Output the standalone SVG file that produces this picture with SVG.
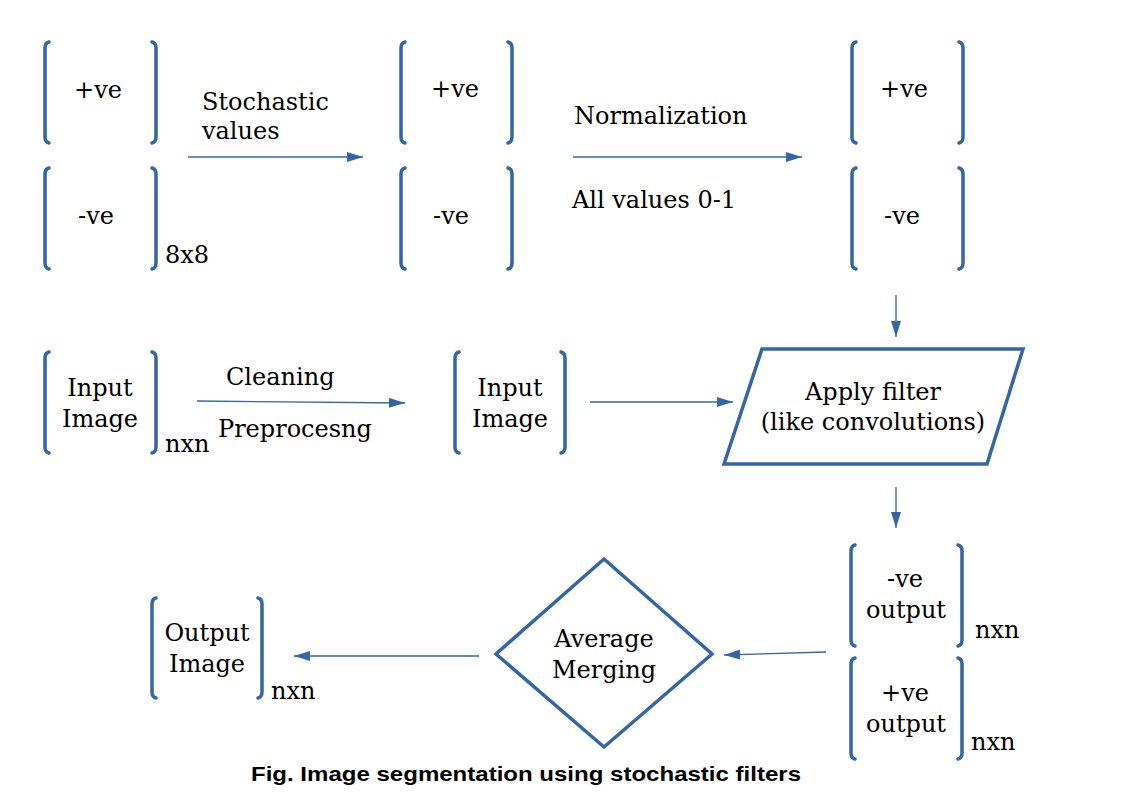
<svg xmlns="http://www.w3.org/2000/svg" width="1123" height="794" viewBox="0 0 1123 794">
<style>
.br{fill:none;stroke:#3465a4;stroke-width:3.5;stroke-linecap:round}
.sh{fill:#fff;stroke:#3465a4;stroke-width:3.5;stroke-linejoin:miter}
.ln{fill:none;stroke:#3465a4;stroke-width:1.3}
text{font-family:"DejaVu Serif",serif;font-size:24px;fill:#000}
.c{text-anchor:middle}
.cap{font-family:"Liberation Sans",Arial,sans-serif;font-weight:bold;font-size:21px}
</style>
<defs>
<marker id="ah" viewBox="0 0 16 10" refX="16" refY="5" markerWidth="16" markerHeight="10" markerUnits="userSpaceOnUse" orient="auto">
<path d="M0,0 L16,5 L0,10 Z" fill="#3465a4"/>
</marker>
</defs>
<rect width="1123" height="794" fill="#fff"/>

<g id="connectors">
<line class="ln" x1="188" y1="157" x2="363" y2="157" marker-end="url(#ah)"/>
<line class="ln" x1="573" y1="157" x2="802" y2="157" marker-end="url(#ah)"/>
<line class="ln" x1="896" y1="295" x2="896" y2="337" marker-end="url(#ah)"/>
<line class="ln" x1="197" y1="401" x2="405" y2="403" marker-end="url(#ah)"/>
<line class="ln" x1="590" y1="402" x2="733" y2="402" marker-end="url(#ah)"/>
<line class="ln" x1="896" y1="487" x2="896" y2="528" marker-end="url(#ah)"/>
<line class="ln" x1="826" y1="652" x2="724" y2="655" marker-end="url(#ah)"/>
<line class="ln" x1="479" y1="656" x2="294" y2="656" marker-end="url(#ah)"/>
</g>

<g id="pos1">
<path class="br" d="M49,42 Q45,43 45,48 V137 Q45,142 49,143"/>
<path class="br" d="M152,42 Q156,43 156,48 V137 Q156,142 152,143"/>
<text class="c" x="98" y="98">+ve</text>
</g>
<g id="neg1">
<path class="br" d="M49,168 Q45,169 45,174 V263 Q45,268 49,269"/>
<path class="br" d="M152,168 Q156,169 156,174 V263 Q156,268 152,269"/>
<text class="c" x="96" y="224">-ve</text>
<text x="165" y="263">8x8</text>
</g>
<g id="label-stochastic">
<text x="202" y="110">Stochastic</text>
<text x="202" y="139">values</text>
</g>
<g id="pos2">
<path class="br" d="M405,42 Q401,43 401,48 V137 Q401,142 405,143"/>
<path class="br" d="M508,42 Q512,43 512,48 V137 Q512,142 508,143"/>
<text class="c" x="455" y="97">+ve</text>
</g>
<g id="neg2">
<path class="br" d="M405,168 Q401,169 401,174 V263 Q401,268 405,269"/>
<path class="br" d="M508,168 Q512,169 512,174 V263 Q512,268 508,269"/>
<text class="c" x="451" y="224">-ve</text>
</g>
<g id="label-norm">
<text x="574" y="124">Normalization</text>
<text x="572" y="208">All values 0-1</text>
</g>
<g id="pos3">
<path class="br" d="M856,42 Q852,43 852,48 V137 Q852,142 856,143"/>
<path class="br" d="M959,42 Q963,43 963,48 V137 Q963,142 959,143"/>
<text class="c" x="904" y="97">+ve</text>
</g>
<g id="neg3">
<path class="br" d="M856,168 Q852,169 852,174 V263 Q852,268 856,269"/>
<path class="br" d="M959,168 Q963,169 963,174 V263 Q963,268 959,269"/>
<text class="c" x="902" y="224">-ve</text>
</g>

<g id="input1">
<path class="br" d="M49,352 Q45,353 45,358 V447 Q45,452 49,453"/>
<path class="br" d="M152,352 Q156,353 156,358 V447 Q156,452 152,453"/>
<text class="c" x="100" y="396">Input</text>
<text class="c" x="100" y="427">Image</text>
<text x="165" y="452">nxn</text>
</g>
<g id="label-clean">
<text x="226" y="385">Cleaning</text>
<text x="218" y="437">Preprocesng</text>
</g>
<g id="input2">
<path class="br" d="M459,352 Q455,353 455,358 V447 Q455,452 459,453"/>
<path class="br" d="M561,352 Q565,353 565,358 V447 Q565,452 561,453"/>
<text class="c" x="510" y="396">Input</text>
<text class="c" x="510" y="427">Image</text>
</g>
<g id="filter">
<polygon class="sh" points="762,349 1023,349 987,464 724,464"/>
<text class="c" x="873" y="400">Apply filter</text>
<text class="c" x="873" y="430">(like convolutions)</text>
</g>

<g id="negout">
<path class="br" d="M855,545 Q851,546 851,551 V640 Q851,645 855,646"/>
<path class="br" d="M958,545 Q962,546 962,551 V640 Q962,645 958,646"/>
<text class="c" x="905" y="587">-ve</text>
<text class="c" x="906" y="618">output</text>
<text x="975" y="638">nxn</text>
</g>
<g id="posout">
<path class="br" d="M855,658 Q851,659 851,664 V753 Q851,758 855,759"/>
<path class="br" d="M958,658 Q962,659 962,664 V753 Q962,758 958,759"/>
<text class="c" x="905" y="701">+ve</text>
<text class="c" x="906" y="732">output</text>
<text x="971" y="750">nxn</text>
</g>
<g id="merge">
<polygon class="sh" points="604,559 712,654 604,747 496,654"/>
<text class="c" x="604" y="647">Average</text>
<text class="c" x="604" y="678">Merging</text>
</g>
<g id="output">
<path class="br" d="M156,598 Q152,599 152,604 V692 Q152,697 156,698"/>
<path class="br" d="M258,598 Q262,599 262,604 V692 Q262,697 258,698"/>
<text class="c" x="207" y="641">Output</text>
<text class="c" x="207" y="672">Image</text>
<text x="271" y="699">nxn</text>
</g>
<g id="caption">
<text class="cap" x="251" y="781" textLength="550" lengthAdjust="spacingAndGlyphs">Fig. Image segmentation using stochastic filters</text>
</g>
</svg>
